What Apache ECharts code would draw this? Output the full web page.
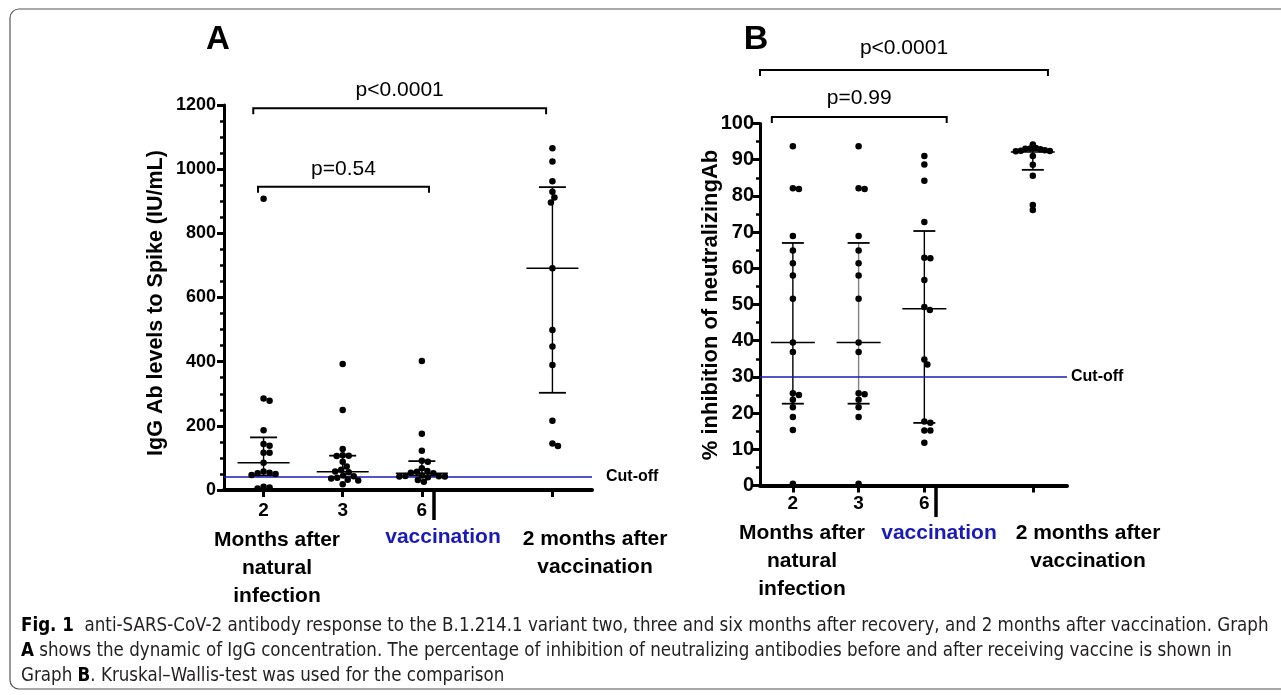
<!DOCTYPE html>
<html><head><meta charset="utf-8">
<script src="https://cdn.jsdelivr.net/npm/echarts@6/dist/echarts.min.js"></script>
<style>html,body{margin:0;padding:0;background:#fff}#c{width:1281px;height:695px}</style>
</head><body><div id="c"></div>
<script>
// ---------- DATA ----------
const groupPos = [0.5, 1.5, 2.5, 4.15];          // x positions of the four groups
const groupTickLabels = ['2', '3', '6'];           // x tick labels for first three groups

// Panel A : IgG Ab levels to Spike (IU/mL)
const iggG1 = [908, 285, 278, 186, 143, 138, 116, 116, 85, 58, 54, 52, 50, 47, 10, 8, 5];
const iggG2 = [393, 249, 128, 108, 107, 106, 88, 73, 63, 58, 55, 45, 43, 38, 36, 32, 30, 18];
const iggG3 = [402, 175, 122, 91, 88, 68, 59, 57, 54, 52, 45, 44, 43, 42, 42, 40, 31, 26];
const iggG4 = [1065, 1024, 962, 930, 912, 896, 691, 499, 447, 390, 216, 145, 137];
const iggMedian = [85, 57, 52, 691];
const iggQ1 = [45, 41, 45, 303];
const iggQ3 = [164, 107, 90, 944];
const iggCutoff = 42;
const iggBrackets = [[0.43, 2.59, 945, 'p=0.54'], [0.37, 4.07, 1190, 'p<0.0001']];

// Panel B : % inhibition of neutralizing Ab
const nabG1 = [93.7, 82.1, 81.9, 68.9, 64.9, 61.4, 58.0, 51.6, 39.5, 36.9, 25.5, 25.0, 23.7, 21.6, 18.9, 15.3, 0.5];
const nabG2 = [93.7, 82.1, 81.9, 68.9, 64.9, 61.4, 58.0, 51.6, 39.5, 36.9, 25.5, 25.2, 23.7, 21.6, 18.9, 0.5];
const nabG3 = [91.0, 88.7, 84.2, 72.8, 62.9, 62.8, 56.8, 49.3, 48.5, 34.8, 33.4, 17.7, 17.3, 15.2, 15.2, 11.8];
const nabG4 = [94.2, 93.2, 93.1, 93.0, 92.9, 92.6, 92.5, 92.4, 92.3, 91.0, 88.6, 85.6, 77.5, 76.1];
const nabMedian = [39.5, 39.5, 48.8, 92.1];
const nabQ1 = [22.6, 22.6, 17.3, 87.2];
const nabQ3 = [67.0, 67.0, 70.3, 92.6];
const nabCutoff = 30;
const nabBrackets = [[0.18, 2.84, 101.8, 'p=0.99'], [0.0, 4.38, 114.8, 'p<0.0001']];

const captionLines = [
  '{b|Fig. 1}  anti-SARS-CoV-2 antibody response to the B.1.214.1 variant two, three and six months after recovery, and 2 months after vaccination. Graph',
  '{b|A} shows the dynamic of IgG concentration. The percentage of inhibition of neutralizing antibodies before and after receiving vaccine is shown in',
  'Graph {b|B}. Kruskal\u2013Wallis-test was used for the comparison'
];

// ---------- LAYOUT ----------
const FONT = '"Liberation Sans", Arial, Helvetica, sans-serif';
const gA = {left: 224, top: 105, width: 368, height: 385, xmax: 4.65, ymax: 1200};
const gB = {left: 760, top: 123.5, width: 307, height: 362, xmax: 4.67, ymax: 100};
const BLUE = '#1a1ab8';

function swarm(vals, pos, g, dmin) {
  const pxX = g.width / g.xmax, pxY = g.height / g.ymax;
  const sorted = vals.slice().sort((a, b) => b - a);
  const placed = [], out = [];
  sorted.forEach(v => {
    const y = v * pxY;
    let chosen = 0;
    for (let k = 0; k < 200; k++) {
      const off = k === 0 ? 0 : (k % 2 ? 1 : -1) * Math.ceil(k / 2) * 0.5;
      if (placed.every(p => Math.hypot(p[0] - off, p[1] - y) >= dmin)) { chosen = off; break; }
    }
    placed.push([chosen, y]);
    out.push([pos + chosen / pxX, v]);
  });
  return out;
}

function statsSeries(idx, med, q1, q3, capW, medW, vColors) {
  return {
    type: 'custom', xAxisIndex: idx, yAxisIndex: idx, z: 2, silent: true,
    data: groupPos.map((x, i) => [x, med[i], q1[i], q3[i], i]),
    renderItem: (params, api) => {
      const x = api.value(0);
      const pm = api.coord([x, api.value(1)]);
      const p1 = api.coord([x, api.value(2)]);
      const p3 = api.coord([x, api.value(3)]);
      const col = vColors[api.value(4)];
      return {type: 'group', children: [
        {type: 'line', shape: {x1: pm[0], y1: p1[1], x2: pm[0], y2: p3[1]}, style: {stroke: col, lineWidth: 1.4}},
        {type: 'line', shape: {x1: pm[0] - capW, y1: p1[1], x2: pm[0] + capW, y2: p1[1]}, style: {stroke: '#000', lineWidth: 1.8}},
        {type: 'line', shape: {x1: pm[0] - capW, y1: p3[1], x2: pm[0] + capW, y2: p3[1]}, style: {stroke: '#000', lineWidth: 1.8}},
        {type: 'line', shape: {x1: pm[0] - medW, y1: pm[1], x2: pm[0] + medW, y2: pm[1]}, style: {stroke: '#000', lineWidth: 1.5}}
      ]};
    }
  };
}

function cutoffSeries(idx, val, dist) {
  return {
    type: 'line', xAxisIndex: idx, yAxisIndex: idx, data: [], silent: true,
    markLine: {
      silent: true, symbol: 'none', animation: false,
      data: [{yAxis: val}],
      lineStyle: {color: BLUE, width: 1.5, type: 'solid'},
      label: {position: 'end', formatter: 'Cut-off', color: '#000', fontWeight: 'bold', fontSize: 16, fontFamily: FONT, distance: dist}
    }
  };
}

function bracketSeries(idx, data, tick, gap) {
  return {
    type: 'custom', xAxisIndex: idx, yAxisIndex: idx, silent: true, clip: false,
    data: data,
    renderItem: (params, api) => {
      const a = api.coord([api.value(0), api.value(2)]);
      const b = api.coord([api.value(1), api.value(2)]);
      const lbl = data[params.dataIndex][3];
      const g = gap[params.dataIndex];
      return {type: 'group', children: [
        {type: 'polyline', shape: {points: [[a[0], a[1] + tick], [a[0], a[1]], [b[0], b[1]], [b[0], b[1] + tick]]},
         style: {stroke: '#000', lineWidth: 2, fill: null}},
        {type: 'text', style: {text: lbl, x: (a[0] + b[0]) / 2, y: a[1] - g, align: 'center', verticalAlign: 'middle',
          font: '21px ' + FONT, fill: '#000'}}
      ]};
    }
  };
}

function yAxisCfg(idx, max, interval, minorSplit, fs, margin) {
  return {
    type: 'value', gridIndex: idx, min: 0, max: max, interval: interval,
    axisLine: {show: true, lineStyle: {color: '#000', width: 3}},
    axisTick: {show: true, length: 7, lineStyle: {color: '#000', width: 3}},
    minorTick: {show: true, splitNumber: minorSplit, length: 4, lineStyle: {color: '#000', width: 2.5}},
    splitLine: {show: false},
    axisLabel: {color: '#000', fontWeight: 'bold', fontSize: fs, fontFamily: FONT, margin: margin, formatter: v => String(v)}
  };
}

function xAxisCfg(idx, max, fs, margin) {
  return {
    type: 'value', gridIndex: idx, min: 0, max: max,
    axisLine: {show: true, onZero: false, lineStyle: {color: '#000', width: 4}},
    axisTick: {show: true, customValues: groupPos, length: 7, lineStyle: {color: '#000', width: 3}},
    axisLabel: {show: true, customValues: groupPos.slice(0, 3), color: '#000', fontWeight: 'bold', fontSize: fs,
      fontFamily: FONT, margin: margin,
      formatter: v => { const i = groupPos.findIndex(p => Math.abs(p - v) < 1e-6); return i >= 0 && i < 3 ? groupTickLabels[i] : ''; }},
    splitLine: {show: false}
  };
}

// caption font size fitted to the figure width
const CAPFONT = '"Liberation Sans Narrow", "DejaVu Sans Condensed", sans-serif';
const mctx = document.createElement('canvas').getContext('2d');
mctx.font = '16px ' + CAPFONT;
const plain1 = captionLines[0].replace(/\{b\|([^}]*)\}/g, '$1');
let capFs = 16 * 1240 / mctx.measureText(plain1).width;
capFs = Math.min(capFs, 19);

const scatterStyle = {color: '#000', opacity: 1};
const series = [
  statsSeries(0, iggMedian, iggQ1, iggQ3, 13.5, 26, ['#000', '#000', '#000', '#000']),
  statsSeries(1, nabMedian, nabQ1, nabQ3, 11, 22, ['#000', '#808080', '#000', '#000']),
  cutoffSeries(0, iggCutoff, 14),
  cutoffSeries(1, nabCutoff, 4),
  bracketSeries(0, iggBrackets, 6, [18, 18]),
  bracketSeries(1, nabBrackets, 6, [19, 22])
];
[iggG1, iggG2, iggG3, iggG4].forEach((vals, i) => series.push({
  type: 'scatter', xAxisIndex: 0, yAxisIndex: 0, z: 5, symbolSize: 6.5, itemStyle: scatterStyle,
  data: swarm(vals, groupPos[i], gA, 6.0)
}));
const bMin = [5.8, 5.8, 5.8, 4.6];
[nabG1, nabG2, nabG3, nabG4].forEach((vals, i) => series.push({
  type: 'scatter', xAxisIndex: 1, yAxisIndex: 1, z: 5, symbolSize: 6.5, itemStyle: scatterStyle,
  data: swarm(vals, groupPos[i], gB, bMin[i])
}));

const lbl = (text, x, y, color) => ({type: 'text', x: x, y: y, silent: true,
  style: {text: text, align: 'center', verticalAlign: 'top', font: 'bold 21px ' + FONT, lineHeight: 28, fill: color || '#000'}});

const graphics = [
  {type: 'rect', shape: {x: 10, y: 9, width: 1300, height: 680, r: 9}, style: {fill: null, stroke: '#555', lineWidth: 1.2}, silent: true, z: -1},
  {type: 'text', x: 218, y: 40, style: {text: 'A', align: 'center', verticalAlign: 'middle', font: 'bold 33px ' + FONT, fill: '#000'}},
  {type: 'text', x: 756, y: 40, style: {text: 'B', align: 'center', verticalAlign: 'middle', font: 'bold 34px ' + FONT, fill: '#000'}},
  {type: 'text', x: 156, y: 303, rotation: Math.PI / 2,
   style: {text: 'IgG Ab levels to Spike (IU/mL)', align: 'center', verticalAlign: 'middle', font: 'bold 21.5px ' + FONT, fill: '#000'}},
  {type: 'text', x: 711, y: 305, rotation: Math.PI / 2,
   style: {text: '% inhibition of neutralizingAb', align: 'center', verticalAlign: 'middle', font: 'bold 22px ' + FONT, fill: '#000'}},
  lbl('Months after\nnatural\ninfection', 277, 526),
  lbl('vaccination', 443, 523, BLUE),
  lbl('2 months after\nvaccination', 595, 525),
  lbl('Months after\nnatural\ninfection', 802, 519),
  lbl('vaccination', 939, 519, BLUE),
  lbl('2 months after\nvaccination', 1088, 519),
  {type: 'line', shape: {x1: 434, y1: 490, x2: 434, y2: 520}, style: {stroke: '#000', lineWidth: 3.5}},
  {type: 'line', shape: {x1: 936, y1: 485, x2: 936, y2: 517}, style: {stroke: '#000', lineWidth: 3.5}}
];
captionLines.forEach((t, i) => graphics.push({
  type: 'text', x: 21, y: 626 + i * 25, silent: true,
  style: {text: t, align: 'left', verticalAlign: 'middle', font: capFs.toFixed(2) + 'px ' + CAPFONT, fill: '#231f20',
    rich: {b: {fontWeight: 'bold', fontSize: capFs, fontFamily: CAPFONT, fill: '#000'}}}
}));

const chart = echarts.init(document.getElementById('c'), null, {renderer: 'canvas'});
chart.setOption({
  animation: false,
  backgroundColor: '#fff',
  grid: [
    {left: gA.left, top: gA.top, width: gA.width, height: gA.height},
    {left: gB.left, top: gB.top, width: gB.width, height: gB.height}
  ],
  xAxis: [xAxisCfg(0, gA.xmax, 19, 11), xAxisCfg(1, gB.xmax, 19, 9)],
  yAxis: [yAxisCfg(0, gA.ymax, 200, 4, 18, 8), yAxisCfg(1, gB.ymax, 10, 2, 20, 6)],
  series: series,
  graphic: graphics
});
</script></body></html>
